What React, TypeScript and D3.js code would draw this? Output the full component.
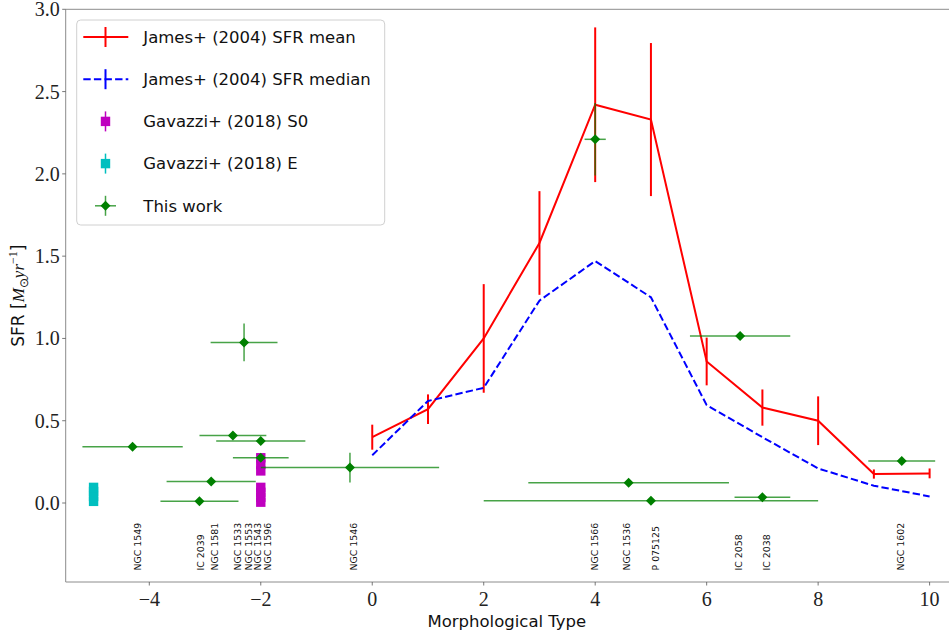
import React from 'react';
import * as d3 from 'd3';

// James+ (2004) mean / median per morphological type
const typeX = [0, 1, 2, 3, 4, 5, 6, 7, 8, 9, 10];
const sfrMean = [0.40, 0.57, 1.0, 1.58, 2.42, 2.33, 0.86, 0.58, 0.5, 0.176, 0.18];
const sfrMeanErr = [0.076, 0.09, 0.33, 0.315, 0.47, 0.465, 0.145, 0.11, 0.148, 0.028, 0.03];
const sfrMedian = [0.29, 0.62, 0.7, 1.23, 1.47, 1.25, 0.595, 0.4, 0.21, 0.105, 0.04];

// Gavazzi+ (2018)
const s0X = -2;
const s0Vals = [0.005, 0.035, 0.065, 0.095, 0.195, 0.235, 0.275];
const eX = -5;
const eVals = [0.01, 0.04, 0.07, 0.095];

// This work
const gxs = [-4.3, -2.3, -2.5, -2.0, -2.0, -2.89, -3.1, -0.4, 4.0, 4.6, 5.0, 6.6, 7.0, 9.5];
const gys = [0.342, 0.976, 0.41, 0.377, 0.275, 0.13, 0.01, 0.215, 2.21, 0.123, 0.014, 1.015, 0.035, 0.255];
const gxerr = [0.9, 0.6, 0.6, 0.8, 0.5, 0.8, 0.7, 1.6, 0.19, 1.8, 3.0, 0.9, 0.5, 0.6];
const gyerr = [0, 0.115, 0, 0, 0, 0, 0, 0.09, 0.22, 0, 0, 0, 0, 0];

// galaxy name labels
const labelNames = ['NGC 1549', 'IC 2039', 'NGC 1581', 'NGC 1533', 'NGC 1553', 'NGC 1543', 'NGC 1596', 'NGC 1546',
  'NGC 1566', 'NGC 1536', 'P 075125', 'IC 2058', 'IC 2038', 'NGC 1602'];
const labelX = [-4.21, -3.09, -2.83, -2.42, -2.22, -2.06, -1.88, -0.34, 3.98, 4.57, 5.09, 6.58, 7.07, 9.48];
const labelY = -0.41;

const xTicks = [-4, -2, 0, 2, 4, 6, 8, 10];
const yTicks = [0, 0.5, 1.0, 1.5, 2.0, 2.5, 3.0];

const legendItems = ['James+ (2004) SFR mean', 'James+ (2004) SFR median', 'Gavazzi+ (2018) S0', 'Gavazzi+ (2018) E', 'This work'];

const W = 949;
const H = 637;
const sans = '"DejaVu Sans", sans-serif';
const serif = '"Liberation Serif", serif';

export default function App() {
  const x = d3.scaleLinear().domain([-5.5, 10.33]).range([65.7, 948]);
  const y = d3.scaleLinear().domain([-0.48, 3.0]).range([582, 9.3]);
  const [x0, x1] = x.range();
  const [yb, yt] = y.range();

  const line = d3.line<number>().x((_, i) => x(typeX[i])).y(d => y(d));
  const fmtX = (v: number) => (v < 0 ? '\u2212' + Math.abs(v) : String(v));

  const sq = 9.4;
  const diamond = (cx: number, cy: number, r = 5) => `M${cx},${cy - r}L${cx + r},${cy}L${cx},${cy + r}L${cx - r},${cy}Z`;
  const gLine = 'rgba(0,128,0,0.72)';

  const lgX = 105.5;
  const lgY = (i: number) => 37 + i * 42.2;

  return (
    <svg width={W} height={H} style={{ position: 'absolute', left: 0, top: 0, background: '#fff' }}>
      {/* galaxy labels */}
      {labelNames.map((n, i) => (
        <text key={n} transform={`translate(${x(labelX[i])},${y(labelY)}) rotate(-90)`}
          dominantBaseline="central" fontFamily={sans} fontSize={9.4} fill="#111">{n}</text>
      ))}

      {/* James mean */}
      <path d={line(sfrMean) || ''} fill="none" stroke="#ff0000" strokeWidth={2} />
      {sfrMean.map((v, i) => (
        <line key={i} x1={x(typeX[i])} x2={x(typeX[i])} y1={y(v - sfrMeanErr[i])} y2={y(v + sfrMeanErr[i])}
          stroke="#ff0000" strokeWidth={2} />
      ))}

      {/* James median */}
      <path d={line(sfrMedian) || ''} fill="none" stroke="#0000ff" strokeWidth={2} strokeDasharray="7.4,3.2" />

      {/* Gavazzi S0 / E */}
      {s0Vals.map((v, i) => (
        <rect key={'s' + i} x={x(s0X) - sq / 2} y={y(v) - sq / 2} width={sq} height={sq} fill="#bf00bf" />
      ))}
      {eVals.map((v, i) => (
        <rect key={'e' + i} x={x(eX) - sq / 2} y={y(v) - sq / 2} width={sq} height={sq} fill="#00bfbf" />
      ))}

      {/* This work */}
      {gxs.map((gx, i) => (
        <g key={'g' + i}>
          <line x1={x(gx - gxerr[i])} x2={x(gx + gxerr[i])} y1={y(gys[i])} y2={y(gys[i])} stroke={gLine} strokeWidth={1.5} />
          {gyerr[i] > 0 && (
            <line x1={x(gx)} x2={x(gx)} y1={y(gys[i] - gyerr[i])} y2={y(gys[i] + gyerr[i])} stroke={gLine} strokeWidth={1.5} />
          )}
        </g>
      ))}
      {gxs.map((gx, i) => (
        <path key={'d' + i} d={diamond(x(gx), y(gys[i]))} fill="#008000" />
      ))}

      {/* spines */}
      <line x1={x0} x2={x0} y1={yt} y2={yb} stroke="#8c8c8c" strokeWidth={1} />
      <line x1={x0} x2={W} y1={yb} y2={yb} stroke="#8c8c8c" strokeWidth={1} />
      <line x1={x0} x2={W} y1={yt} y2={yt} stroke="#8c8c8c" strokeWidth={1} />

      {/* ticks */}
      {yTicks.map(t => (
        <g key={'yt' + t}>
          <line x1={x0 - 3.5} x2={x0} y1={y(t)} y2={y(t)} stroke="#555" strokeWidth={0.8} />
          <text x={x0 - 6} y={y(t)} dy="0.35em" textAnchor="end" fontFamily={serif} fontSize={20} fill="#222">{t.toFixed(1)}</text>
        </g>
      ))}
      {xTicks.map(t => (
        <g key={'xt' + t}>
          <line x1={x(t)} x2={x(t)} y1={yb} y2={yb + 3.5} stroke="#555" strokeWidth={0.8} />
          <text x={x(t)} y={yb + 24} textAnchor="middle" fontFamily={serif} fontSize={20} fill="#222">{fmtX(t)}</text>
        </g>
      ))}

      {/* axis labels */}
      <text x={(x0 + x1) / 2} y={627} textAnchor="middle" fontFamily={sans} fontSize={16.5} fill="#111">Morphological Type</text>
      <text transform={`translate(24,${(yt + yb) / 2}) rotate(-90)`} textAnchor="middle" fontSize={17} fill="#111">
        <tspan fontFamily={sans}>SFR [</tspan>
        <tspan fontFamily={serif} fontStyle="italic">M</tspan>
        <tspan fontFamily={serif} fontSize={12} dy={4}>{'\u2299'}</tspan>
        <tspan fontFamily={serif} fontStyle="italic" dy={-4}>yr</tspan>
        <tspan fontFamily={serif} fontSize={12} dy={-7}>{'\u22121'}</tspan>
        <tspan fontFamily={sans} dy={7}>]</tspan>
      </text>

      {/* legend */}
      <g>
        <rect x={76.7} y={20} width={308} height={205} rx={4} fill="#fff" fillOpacity={0.8} stroke="#d0d0d0" strokeWidth={1} />
        {legendItems.map((lab, i) => (
          <text key={lab} x={143.3} y={lgY(i)} dy="0.35em" fontFamily={sans} fontSize={16.5} fill="#111">{lab}</text>
        ))}
        <line x1={83.3} x2={128.3} y1={lgY(0)} y2={lgY(0)} stroke="#ff0000" strokeWidth={2} />
        <line x1={lgX} x2={lgX} y1={lgY(0) - 10} y2={lgY(0) + 10} stroke="#ff0000" strokeWidth={2} />
        <line x1={83.3} x2={128.3} y1={lgY(1)} y2={lgY(1)} stroke="#0000ff" strokeWidth={2} strokeDasharray="7.4,3.2" />
        <line x1={lgX} x2={lgX} y1={lgY(1) - 10} y2={lgY(1) + 10} stroke="#0000ff" strokeWidth={2} />
        <line x1={lgX} x2={lgX} y1={lgY(2) - 10} y2={lgY(2) + 10} stroke="#bf00bf" strokeWidth={1.5} />
        <rect x={lgX - sq / 2} y={lgY(2) - sq / 2} width={sq} height={sq} fill="#bf00bf" />
        <line x1={lgX} x2={lgX} y1={lgY(3) - 10} y2={lgY(3) + 10} stroke="#00bfbf" strokeWidth={1.5} />
        <rect x={lgX - sq / 2} y={lgY(3) - sq / 2} width={sq} height={sq} fill="#00bfbf" />
        <line x1={lgX - 10.5} x2={lgX + 10.5} y1={lgY(4)} y2={lgY(4)} stroke={gLine} strokeWidth={1.5} />
        <line x1={lgX} x2={lgX} y1={lgY(4) - 10} y2={lgY(4) + 10} stroke={gLine} strokeWidth={1.5} />
        <path d={diamond(lgX, lgY(4))} fill="#008000" />
      </g>
    </svg>
  );
}
